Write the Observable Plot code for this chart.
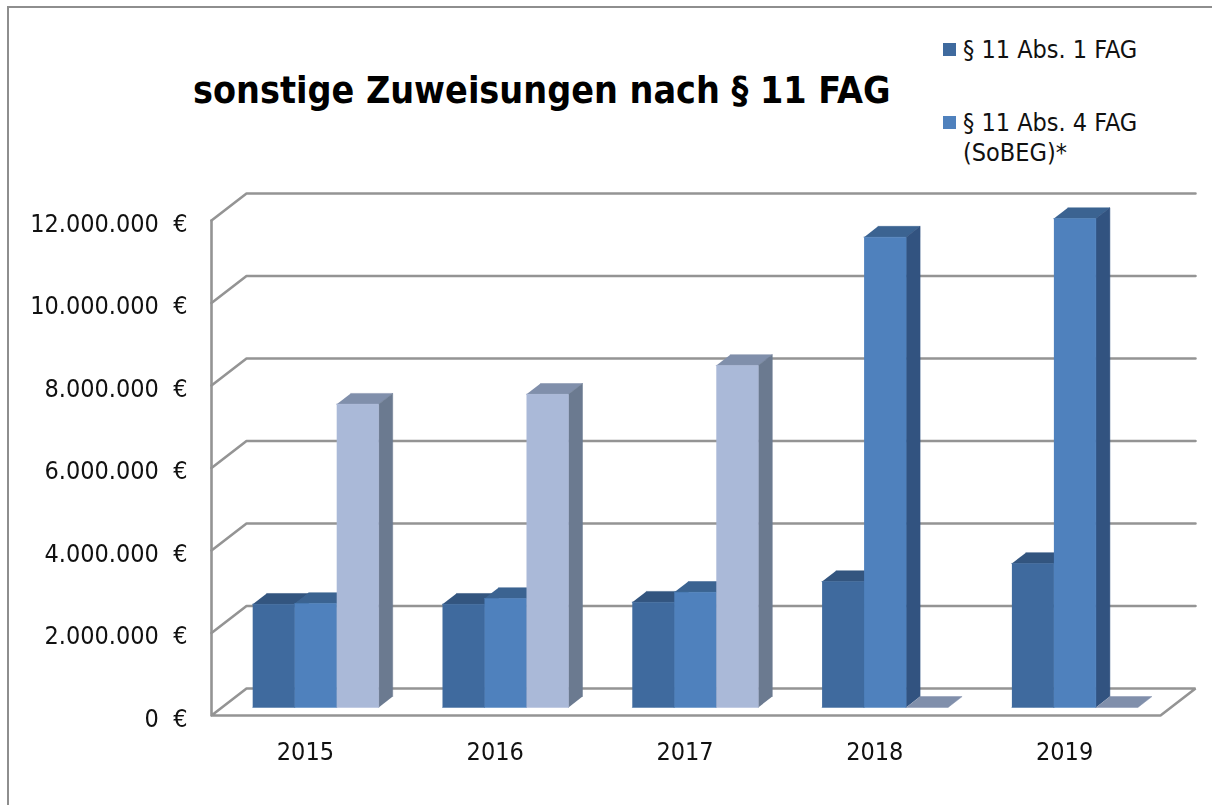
<!DOCTYPE html>
<html lang="de">
<head>
<meta charset="utf-8">
<script src="https://cdn.jsdelivr.net/npm/d3@7"></script>
<script src="https://cdn.jsdelivr.net/npm/@observablehq/plot@0.6"></script>
<style>
html,body{margin:0;padding:0;background:#fff;width:1212px;height:805px;overflow:hidden}
body{position:relative;font-family:"DejaVu Sans Condensed","DejaVu Sans",sans-serif;font-stretch:condensed;color:#111}
#frame{position:absolute;left:7px;top:6px;right:-5px;bottom:-5px;border-top:2px solid #8e8e8e;border-left:2px solid #8e8e8e;pointer-events:none}
#chart{position:absolute;left:0;top:0;width:1212px;height:805px}
#chart svg{display:block;filter:blur(.35px)}
#title{position:absolute;left:193px;top:68px;font-size:37.3px;font-weight:bold;color:#000;white-space:nowrap;line-height:44px}
.leg{position:absolute;left:963px;font-size:25px;line-height:30px;white-space:pre}
.sw{position:absolute;left:943px;width:13px;height:13px}
</style>
</head>
<body>
<div id="chart"></div>
<div id="frame"></div>
<div id="title">sonstige Zuweisungen nach § 11 FAG</div>
<div class="sw" style="top:43px;background:#3f6a9e"></div>
<div class="leg" style="top:35px">§ 11 Abs. 1 FAG</div>
<div class="sw" style="top:116px;background:#4f81bd"></div>
<div class="leg" style="top:108px">§ 11 Abs. 4 FAG
(SoBEG)*</div>
<script>
const categories = ["2015", "2016", "2017", "2018", "2019"];
const abs1 = [2500000, 2500000, 2550000, 3050000, 3490000];
const abs4 = [2520000, 2640000, 2790000, 11400000, 11850000];
const third = [7350000, 7590000, 8290000, 0, 0];
const yTicks = [0, 2000000, 4000000, 6000000, 8000000, 10000000, 12000000];

// colours per series: front, top, side
const palette = [
  ["#3f6a9e", "#33557f", "#33557f"],
  ["#4f81bd", "#3b6391", "#325380"],
  ["#aab9d8", "#808fab", "#6b7a90"]
];
const seriesValues = [abs1, abs4, third];

// oblique projection: depth 0 = front plane, depth 1 = back wall
const depthX = 35 / 189.8;
const depthY = 27 / 41.25 * 1e6;
const P = (x, v, d) => ({x: x + d * depthX, y: v + d * depthY});

const n = categories.length;
const polys = [];
const add = (color, pts) => { const id = polys.length ? polys[polys.length - 1].id + 1 : 0; pts.forEach(p => polys.push({...p, id, color})); };

const gap = 0.1617, bw = 0.2213, d0 = 0.3, d1 = 0.7;
categories.forEach((_, i) => {
  seriesValues.forEach((vals, s) => {
    const v = vals[i];
    const x0 = i + gap + s * bw, x1 = x0 + bw;
    const [front, top, side] = palette[s];
    add(top, [P(x0, v, d0), P(x1, v, d0), P(x1, v, d1), P(x0, v, d1)]);
    if (v > 0) {
      add(side, [P(x1, 0, d0), P(x1, v, d0), P(x1, v, d1), P(x1, 0, d1)]);
      add(front, [P(x0, 0, d0), P(x1, 0, d0), P(x1, v, d0), P(x0, v, d0)]);
    }
  });
});

// gridlines: back wall and left wall, floor edge and front axis
const grid = [];
yTicks.forEach((v, k) => {
  if (v === 0) return;
  [P(0, v, 0), P(0, v, 1), P(n, v, 1)].forEach(p => grid.push({...p, id: k}));
});
[P(0, 0, 0), P(0, 0, 1), P(n, 0, 1), P(n, 0, 0), P(0, 0, 0), P(0, yTicks[yTicks.length - 1], 0)]
  .forEach(p => grid.push({...p, id: 0}));

const fmt = v => v.toLocaleString("de-DE") + "\u00a0\u00a0€";

const plot = Plot.plot({
  width: 1212,
  height: 805,
  marginLeft: 211,
  marginRight: 52,
  marginTop: 220,
  marginBottom: 90,
  style: {background: "transparent", fontFamily: '"DejaVu Sans Condensed","DejaVu Sans",sans-serif'},
  x: {domain: [0, n]},
  y: {domain: [0, 12000000]},
  color: {type: "identity"},
  marks: [
    Plot.line(grid, {x: "x", y: "y", z: "id", stroke: "#949494", strokeWidth: 2.6, strokeLinejoin: "miter"}),
    Plot.line(polys, {x: "x", y: "y", z: "id", fill: "color", stroke: "color", strokeWidth: 0.5}),
    Plot.axisY({ticks: yTicks, tickSize: 0, tickPadding: 24, tickFormat: fmt, fontSize: 25, dy: 3, fill: "#111", label: null}),
    Plot.axisX({
      ticks: categories.map((_, i) => i + 0.5),
      tickFormat: t => categories[Math.floor(t)],
      tickSize: 0, tickPadding: 27, fontSize: 25, dx: -1, fill: "#111", label: null
    })
  ]
});
document.getElementById("chart").append(plot);
</script>
</body>
</html>
